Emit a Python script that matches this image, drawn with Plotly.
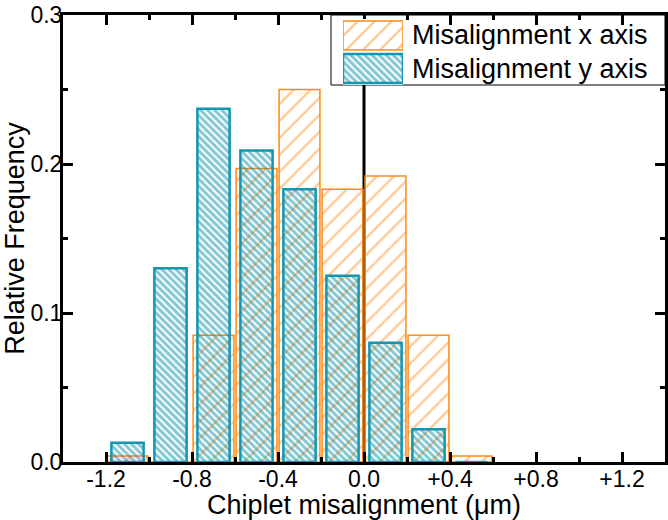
import plotly.graph_objects as go

# ---- data ----
bin_centers = [-1.1, -0.9, -0.7, -0.5, -0.3, -0.1, 0.1, 0.3, 0.5]
freq_x_axis = [0.004, 0.0, 0.085, 0.197, 0.250, 0.183, 0.192, 0.085, 0.004]
freq_y_axis = [0.013, 0.130, 0.237, 0.209, 0.183, 0.125, 0.080, 0.022, 0.0]
series_names = ["Misalignment x axis", "Misalignment y axis"]
x_tick_vals = [-1.2, -0.8, -0.4, 0.0, 0.4, 0.8, 1.2]
x_tick_text = ["-1.2", "-0.8", "-0.4", "0.0", "+0.4", "+0.8", "+1.2"]
y_tick_vals = [0.0, 0.1, 0.2, 0.3]
y_tick_text = ["0.0", "0.1", "0.2", "0.3"]

ORANGE = "#ff8a14"
TEAL = "#1496b0"
FONT = "Liberation Sans, Arial, sans-serif"

orange_pattern = dict(shape="/", size=12, solidity=0.18, fgcolor=ORANGE)
teal_pattern = dict(shape="\\", size=5, solidity=0.6, fgcolor="#0f8fa9")

fig = go.Figure()
fig.add_trace(go.Bar(
    x=bin_centers, y=freq_x_axis, width=0.19, name=series_names[0],
    marker=dict(color="rgba(0,0,0,0)", line=dict(color=ORANGE, width=1.5), pattern=orange_pattern),
    showlegend=False,
))
fig.add_trace(go.Bar(
    x=bin_centers, y=freq_y_axis, width=0.15, name=series_names[1],
    marker=dict(color="rgba(0,0,0,0)", line=dict(color=TEAL, width=2.5), pattern=teal_pattern),
    showlegend=False,
))

# ---- custom legend (swatches drawn as bars on a small inset axis) ----
legend_rows = [1, 0]
fig.add_trace(go.Bar(
    x=[1], y=[legend_rows[0]], orientation="h", width=0.88, xaxis="x2", yaxis="y2",
    marker=dict(color="rgba(0,0,0,0)", line=dict(color=ORANGE, width=1.5), pattern=orange_pattern),
    showlegend=False, hoverinfo="skip",
))
fig.add_trace(go.Bar(
    x=[1], y=[legend_rows[1]], orientation="h", width=0.88, xaxis="x2", yaxis="y2",
    marker=dict(color="rgba(0,0,0,0)", line=dict(color=TEAL, width=2.5), pattern=teal_pattern),
    showlegend=False, hoverinfo="skip",
))

W, H = 668, 520
ML, MR, MT, MB = 63, 3, 15, 58
pw, ph = W - ML - MR, H - MT - MB

def px_x(p):
    return (p - ML) / pw

def px_y(p):
    return (H - MB - p) / ph

fig.update_layout(
    width=W, height=H,
    margin=dict(l=ML, r=MR, t=MT, b=MB, autoexpand=False),
    paper_bgcolor="white", plot_bgcolor="white",
    barmode="overlay",
    font=dict(family=FONT, color="black", size=23),
    xaxis=dict(
        range=[-1.4, 1.4], tickvals=x_tick_vals, ticktext=x_tick_text,
        ticks="inside", ticklen=10, tickwidth=3, tickcolor="black",
        minor=dict(tickvals=[-1.0, -0.6, -0.2, 0.2, 0.6, 1.0], ticks="inside", ticklen=5, tickwidth=2.5, tickcolor="black"),
        showline=True, linewidth=3, linecolor="black", mirror="allticks",
        showgrid=False, zeroline=False,
        tickfont=dict(size=23), automargin=False, ticklabelstandoff=-6,
        ticklabeloverflow="allow",
        title=dict(text="Chiplet misalignment (μm)", font=dict(size=27), standoff=2),
    ),
    yaxis=dict(
        range=[0, 0.3], tickvals=y_tick_vals, ticktext=y_tick_text,
        ticks="inside", ticklen=10, tickwidth=3, tickcolor="black",
        minor=dict(tickvals=[0.05, 0.15, 0.25], ticks="inside", ticklen=5, tickwidth=2.5, tickcolor="black"),
        showline=True, linewidth=3, linecolor="black", mirror="allticks",
        showgrid=False, zeroline=False,
        tickfont=dict(size=23), automargin=False, ticklabelstandoff=-7,
        ticklabeloverflow="allow",
        title=dict(text="Relative Frequency", font=dict(size=27), standoff=2),
    ),
    xaxis2=dict(domain=[px_x(343), px_x(403)], range=[0, 1], anchor="y2",
                visible=False, fixedrange=True),
    yaxis2=dict(domain=[px_y(85), px_y(19)], range=[-0.5, 1.5], anchor="x2",
                visible=False, fixedrange=True),
    shapes=[
        # vertical reference line at zero misalignment
        dict(type="line", xref="x", yref="paper", x0=0, x1=0, y0=0, y1=1,
             line=dict(color="black", width=3), layer="below"),
        # legend box
        dict(type="rect", xref="paper", yref="paper",
             x0=px_x(331), x1=1.0, y0=px_y(85), y1=1.0,
             line=dict(color="black", width=1), fillcolor="white", layer="below"),
    ],
    annotations=[
        dict(text=series_names[0], xref="paper", yref="paper", x=px_x(410), y=px_y(34.5),
             xanchor="left", yanchor="middle", showarrow=False, font=dict(size=27)),
        dict(text=series_names[1], xref="paper", yref="paper", x=px_x(410), y=px_y(69),
             xanchor="left", yanchor="middle", showarrow=False, font=dict(size=27)),
    ],
)

fig.write_html("out.html", config={"displayModeBar": False},
               post_script="document.body.style.margin='0';")
